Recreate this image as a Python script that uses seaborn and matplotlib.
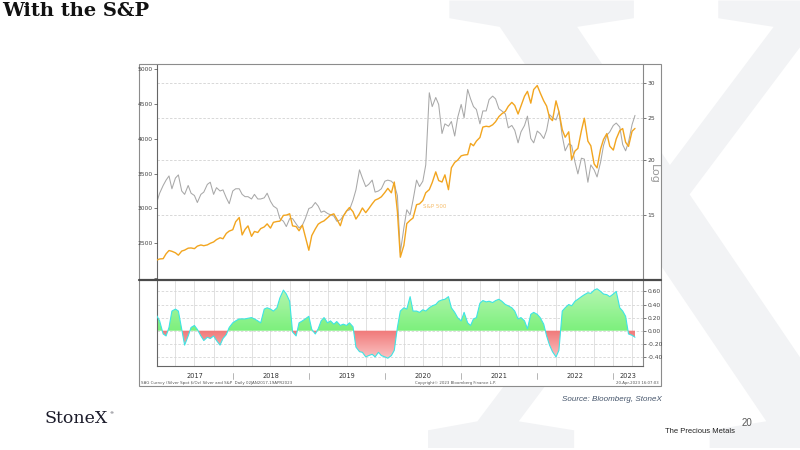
import numpy as np
import pandas as pd
import matplotlib
matplotlib.use("Agg")
import matplotlib.pyplot as plt
import seaborn as sns
import matplotlib.dates as mdates
from matplotlib.colors import LinearSegmentedColormap
from matplotlib.path import Path
from matplotlib.patches import Rectangle
from matplotlib.lines import Line2D
from matplotlib.ticker import FixedLocator, NullLocator
import matplotlib.transforms as mtrans

# ---------------- data (semi-monthly samples, Jan 2017 - Apr 2023) ----------------
dates = pd.date_range("2017-01-01", "2023-04-15", freq="SMS")

sp500 = [
    2258, 2275, 2279, 2349, 2396, 2385, 2363, 2329, 2388, 2402, 2430, 2433,
    2423, 2459, 2476, 2465, 2477, 2500, 2519, 2553, 2579, 2565, 2642, 2675,
    2695, 2810, 2870, 2620, 2700, 2750, 2600, 2670, 2655, 2711, 2735, 2779,
    2718, 2801, 2813, 2818, 2901, 2905, 2924, 2750, 2740, 2680, 2760, 2600,
    2400, 2610, 2706, 2775, 2803, 2822, 2867, 2905, 2923, 2850, 2752, 2886,
    2964, 3014, 2953, 2848, 2926, 3007, 2940, 2995, 3067, 3120, 3141, 3168,
    3231, 3289, 3225, 3380, 2954, 2300, 2470, 2783, 2830, 2863, 3055, 3066,
    3115, 3226, 3271, 3372, 3526, 3401, 3380, 3483, 3270, 3585, 3662, 3694,
    3756, 3768, 3774, 3934, 3901, 3968, 4020, 4170, 4181, 4174, 4202, 4246,
    4320, 4360, 4395, 4468, 4524, 4480, 4357, 4471, 4613, 4682, 4513, 4709,
    4766, 4662, 4546, 4471, 4306, 4262, 4546, 4392, 4132, 4023, 4101, 3700,
    3825, 3863, 4119, 4297, 3967, 3901, 3640, 3583, 3856, 3992, 4076, 3895,
    3839, 3999, 4119, 4148, 3951, 3892, 4109, 4150,
]

silver = [
    16.0, 16.8, 17.5, 18.0, 18.4, 17.2, 18.2, 18.5, 17.0, 16.7, 17.5, 16.8,
    16.6, 16.0, 16.7, 16.9, 17.6, 17.8, 16.7, 17.3, 17.0, 17.1, 16.4, 15.9,
    17.0, 17.2, 17.2, 16.7, 16.5, 16.5, 16.3, 16.7, 16.3, 16.3, 16.4, 16.8,
    16.1, 15.7, 15.5, 14.7, 14.5, 14.1, 14.7, 14.7, 14.3, 14.0, 14.2, 14.7,
    15.5, 15.6, 16.0, 15.7, 15.2, 15.3, 15.1, 15.0, 14.9, 14.5, 14.6, 14.9,
    15.3, 15.4, 16.2, 17.1, 19.0, 18.2, 17.4, 17.6, 18.0, 16.9, 17.0, 17.2,
    17.9, 18.0, 17.9, 17.6, 16.6, 12.3, 14.0, 15.4, 15.0, 16.2, 18.0, 17.4,
    17.9, 19.5, 28.5, 26.5, 27.8, 26.8, 23.0, 24.2, 23.9, 24.5, 22.7, 25.0,
    26.8, 25.0, 29.0, 27.6, 26.5, 26.1, 24.2, 25.9, 25.9, 27.5, 28.0, 27.6,
    26.2, 25.9, 25.5, 23.7, 24.0, 23.4, 21.9, 23.2, 24.0, 25.2, 22.4, 21.9,
    23.3, 23.0, 22.4, 23.4, 25.4, 25.0, 24.7, 25.8, 22.7, 21.0, 21.8, 21.6,
    19.8, 18.6, 20.2, 20.1, 17.8, 19.5, 19.0, 18.3, 19.8, 21.6, 22.8, 23.2,
    24.0, 24.3, 23.8, 21.7, 21.0, 22.0, 24.1, 25.3,
]

correlation = [
    0.23, 0.15, -0.05, -0.08, 0.05, 0.30, 0.33, 0.30, 0.02, -0.22, -0.08, 0.05,
    0.08, 0.02, -0.08, -0.15, -0.10, -0.12, -0.08, -0.15, -0.22, -0.12, -0.06, 0.05,
    0.12, 0.15, 0.18, 0.18, 0.18, 0.19, 0.20, 0.18, 0.15, 0.12, 0.33, 0.35,
    0.33, 0.30, 0.35, 0.50, 0.62, 0.56, 0.45, -0.02, -0.08, 0.12, 0.15, 0.18,
    0.22, 0.02, -0.05, 0.03, 0.15, 0.20, 0.12, 0.15, 0.10, 0.14, 0.08, 0.10,
    0.08, 0.12, 0.06, -0.25, -0.32, -0.33, -0.40, -0.38, -0.36, -0.40, -0.33, -0.38,
    -0.40, -0.42, -0.38, -0.30, 0.05, 0.30, 0.35, 0.33, 0.52, 0.30, 0.30, 0.28,
    0.32, 0.30, 0.35, 0.38, 0.40, 0.45, 0.47, 0.48, 0.52, 0.35, 0.28, 0.20,
    0.15, 0.28, 0.12, 0.08, 0.18, 0.20, 0.42, 0.46, 0.44, 0.45, 0.43, 0.46,
    0.48, 0.45, 0.40, 0.38, 0.35, 0.30, 0.18, 0.20, 0.15, 0.03, 0.25, 0.28,
    0.25, 0.20, 0.10, -0.08, -0.22, -0.32, -0.40, -0.30, 0.30, 0.35, 0.40, 0.38,
    0.45, 0.48, 0.52, 0.55, 0.58, 0.57, 0.62, 0.64, 0.60, 0.56, 0.55, 0.52,
    0.56, 0.60, 0.35, 0.30, 0.22, -0.05, -0.07, -0.10,
]

silver_ticks = [15, 20, 25, 30]
sp_ticks = [2000, 2500, 3000, 3500, 4000, 4500, 5000]
sp_tick_labels = ["", "2500", "3000", "3500", "4000", "4500", "5000"]
corr_ticks = [-0.4, -0.2, 0.0, 0.2, 0.4, 0.6]
corr_tick_labels = ["-0.40", "-0.20", "0.00", "0.20", "0.40", "0.60"]
years = [2017, 2018, 2019, 2020, 2021, 2022, 2023]

# ---------------- figure ----------------
sns.set_style("white")
plt.rcParams["font.family"] = ["DejaVu Sans"]

W, H = 800, 450
fig = plt.figure(figsize=(8, 4.5), dpi=100)
fig.patch.set_facecolor("white")


def fx(px):
    return px / W


def fy(py):
    return 1 - py / H


# watermark X
fig.text(fx(660), fy(448), "X", family="Liberation Serif", fontsize=492,
         color="#f2f3f5", ha="center", va="baseline", zorder=-3)

# chart frame
fig.add_artist(Rectangle((fx(139), fy(386)), fx(661) - fx(139), fy(64) - fy(386),
                         transform=fig.transFigure, facecolor="white",
                         edgecolor="#8c8c8c", lw=0.8, zorder=-1))

L, R = 156.7, 642.7
ax_s = fig.add_axes([fx(L), fy(279), fx(R) - fx(L), fy(65) - fy(279)])
ax_b = fig.add_axes([fx(L), fy(366), fx(R) - fx(L), fy(281) - fy(366)], sharex=ax_s)
for a in (ax_s, ax_b):
    a.set_facecolor("none")

x0 = pd.Timestamp("2017-01-01")
x1 = pd.Timestamp("2023-05-22")

# ---- top panel: silver (log, right) ----
sns.lineplot(x=dates, y=silver, ax=ax_s, color="#a8a8a8", lw=0.75, zorder=2)
ax_p = ax_s.twinx()   # S&P 500 on a twin axis (left side)

ax_s.set_yscale("log")
ax_s.set_ylim(10.70, 32.98)
ax_s.yaxis.tick_right()
ax_s.yaxis.set_label_position("right")
ax_s.yaxis.set_major_locator(FixedLocator(silver_ticks))
ax_s.yaxis.set_minor_locator(NullLocator())
ax_s.set_yticks(silver_ticks, [str(t) for t in silver_ticks])
ax_s.yaxis.grid(True, ls=(0, (3, 2)), color="#d2d2d2", lw=0.6)
ax_s.xaxis.grid(False)
ax_s.tick_params(axis="y", which="both", labelsize=4.3, length=2, width=0.5,
                 colors="#444444", pad=1.5, right=True, left=False,
                 labelright=True, labelleft=False)
ax_s.tick_params(axis="x", which="both", bottom=False, labelbottom=False)
ax_s.set_ylabel("")
ax_s.set_xlabel("")
for side in ("top", "bottom"):
    ax_s.spines[side].set_visible(False)
ax_s.spines["left"].set_color("#666666")
ax_s.spines["left"].set_lw(0.8)
ax_s.spines["right"].set_color("#888888")
ax_s.spines["right"].set_lw(0.8)
ax_s.text(1.012, 0.49, "Log", transform=ax_s.transAxes, rotation=270,
          fontsize=8, color="#9a9a9a", ha="left", va="center")

# ---- top panel: S&P 500 (linear, left) ----
sns.lineplot(x=dates, y=sp500, ax=ax_p, color="#f2a51f", lw=1.0, zorder=3)
ax_p.set_ylim(1987, 5061)
ax_p.yaxis.tick_left()
ax_p.set_yticks(sp_ticks, sp_tick_labels)
ax_p.tick_params(axis="y", labelsize=4.3, length=2, width=0.5, colors="#444444",
                 pad=1, left=True, right=False, labelleft=True, labelright=False)
ax_p.tick_params(axis="x", which="both", bottom=False, labelbottom=False)
ax_p.set_ylabel("")
ax_p.set_xlabel("")
for sp in ax_p.spines.values():
    sp.set_visible(False)
ax_p.grid(False)
ax_p.text(pd.Timestamp("2020-07-03"), 3022, "S&P 500", fontsize=4,
          color="#f6bd6a", va="center", ha="left")

# ---- bottom panel: correlation ----
corr = np.array(correlation)
xnum = mdates.date2num(dates)

pos_coll = ax_b.fill_between(dates, 0, corr, where=corr >= 0, interpolate=True,
                             facecolor="none", edgecolor="none")
neg_coll = ax_b.fill_between(dates, 0, corr, where=corr <= 0, interpolate=True,
                             facecolor="none", edgecolor="none")

cmap_pos = LinearSegmentedColormap.from_list("pos", ["#7cf07c", "#b8f6b4"])
cmap_neg = LinearSegmentedColormap.from_list("neg", ["#fcc8c8", "#f07878"])


def grad_fill(coll, cmap, y0, y1):
    paths = coll.get_paths()
    if not paths:
        return
    cp = Path.make_compound_path(*paths)
    g = np.linspace(0, 1, 256).reshape(-1, 1)
    im = ax_b.imshow(g, extent=[xnum[0], xnum[-1], y0, y1], origin="lower",
                     aspect="auto", cmap=cmap, zorder=2, interpolation="bilinear")
    im.set_clip_path(cp, transform=ax_b.transData)


grad_fill(pos_coll, cmap_pos, 0.0, 0.68)
grad_fill(neg_coll, cmap_neg, -0.45, 0.0)
sns.lineplot(x=dates, y=corr, ax=ax_b, color="#3ee4e4", lw=0.8, zorder=3)

ax_b.set_ylim(-0.539, 0.759)
ax_b.set_xlim(x0, x1)
ax_b.yaxis.tick_right()
ax_b.set_yticks(corr_ticks, corr_tick_labels)
ax_b.yaxis.grid(True, ls=(0, (3, 2)), color="#d6d6d6", lw=0.6)
ax_b.xaxis.set_major_locator(mdates.MonthLocator(bymonth=[1, 4, 7, 10]))
ax_b.xaxis.set_minor_locator(mdates.MonthLocator())
ax_b.xaxis.grid(True, which="major", color="#dcdcdc", lw=0.6, ls="-")
ax_b.tick_params(axis="x", which="both", labelbottom=False, length=1.5,
                 width=0.4, colors="#666666", direction="out")
ax_b.tick_params(axis="y", labelsize=4.3, length=2, width=0.5, colors="#444444",
                 pad=1.5, right=True, left=False)
ax_b.set_ylabel("")
ax_b.set_xlabel("")
ax_b.spines["top"].set_visible(False)
ax_b.spines["left"].set_color("#666666")
ax_b.spines["bottom"].set_color("#666666")
ax_b.spines["right"].set_color("#888888")
for side in ("left", "bottom", "right"):
    ax_b.spines[side].set_lw(0.8)

blend = mtrans.blended_transform_factory(ax_b.transData, ax_b.transAxes)
for yr in years:
    start = pd.Timestamp(f"{yr}-01-01")
    end = min(pd.Timestamp(f"{yr + 1}-01-01"), x1)
    mid = start + (end - start) / 2
    ax_b.text(mid, -0.118, str(yr), transform=blend, fontsize=4.8,
              color="#333333", ha="center", va="center", clip_on=False)
    if yr > 2017:
        ax_b.plot([start, start], [-0.079, -0.157], transform=blend,
                  color="#aaaaaa", lw=0.6, clip_on=False)

# divider between panels
fig.add_artist(Line2D([fx(139), fx(661)], [fy(279.6), fy(279.6)],
                      transform=fig.transFigure, color="#4a4a4a", lw=1.6, zorder=5))

# chart footer texts
fig.text(fx(141), fy(383), "SAG Curncy (Silver Spot $/Oz) Silver and S&P  Daily 02JAN2017-19APR2023",
         fontsize=2.9, color="#555555", va="center", ha="left")
fig.text(fx(415), fy(383), "Copyright\u00a9 2023 Bloomberg Finance L.P.",
         fontsize=2.8, color="#555555", va="center", ha="left")
fig.text(fx(659), fy(383), "20-Apr-2023 16:07:03",
         fontsize=2.8, color="#555555", va="center", ha="right")

# slide texts
fig.text(fx(2), fy(16.5), "With the S&P", family="DejaVu Serif", weight="bold",
         fontsize=14, color="#111111", ha="left", va="baseline")
fig.text(fx(45), fy(423), "StoneX", family="DejaVu Serif", fontsize=12.5,
         color="#1b1b2a", ha="left", va="baseline")
fig.text(fx(109.5), fy(414), "\u00ae", fontsize=3, color="#1b1b2a", ha="left", va="baseline")
fig.text(fx(562), fy(401), "Source: Bloomberg, StoneX", family="Liberation Sans",
         style="italic", fontsize=5.8, color="#44546a", ha="left", va="baseline")
fig.text(fx(665), fy(433), "The Precious Metals", family="Liberation Sans",
         fontsize=5.5, color="#222222", ha="left", va="baseline")
fig.text(fx(742), fy(426), "20", family="Liberation Sans", fontsize=7,
         color="#595959", ha="left", va="baseline")

fig.savefig("out.png", dpi=100, facecolor="white")
